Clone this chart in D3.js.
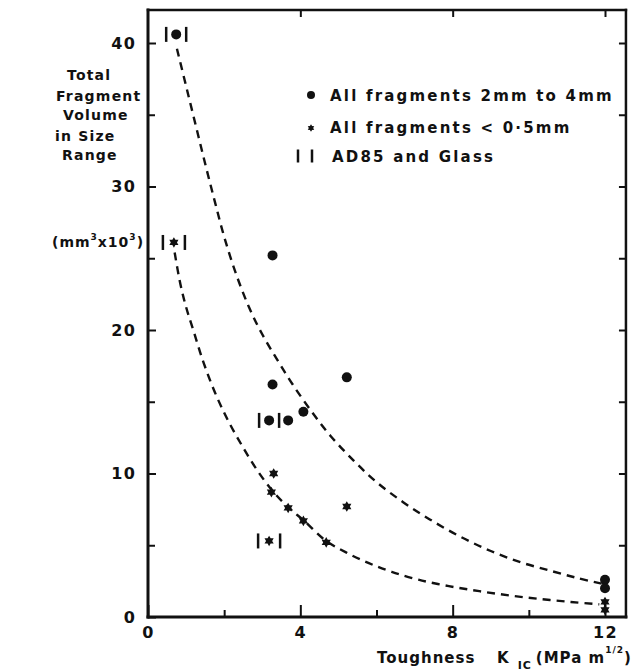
<!DOCTYPE html>
<html>
<head>
<meta charset="utf-8">
<script src="https://cdn.jsdelivr.net/npm/d3@7"></script>
<style>
  html, body { margin: 0; padding: 0; background: #fff; }
  svg { display: block; }
  text { font-family: "DejaVu Sans", "Liberation Sans", Arial, sans-serif; font-weight: bold; fill: #111; }
</style>
</head>
<body>
<script>
// Fragment volume vs. fracture toughness

// Fragments 2mm to 4mm (circles)
const coarseToughness = [0.74, 3.27, 3.27, 5.22, 4.08, 3.18, 3.68, 12, 12];
const coarseVolume    = [40.6, 25.2, 16.2, 16.7, 14.3, 13.7, 13.7, 2.6, 2.0];
const coarseAD85Glass = [true, false, false, false, false, true, false, false, false];

// Fragments < 0.5mm (stars)
const fineToughness = [0.68, 3.30, 3.24, 3.68, 4.08, 4.68, 5.22, 3.18, 12, 12];
const fineVolume    = [26.1, 10.0, 8.7, 7.6, 6.7, 5.2, 7.7, 5.3, 1.05, 0.5];
const fineAD85Glass = [true, false, false, false, false, false, false, true, false, false];

// Hand-drawn trend curves [toughness, volume]
const coarseTrend = [
  [0.76, 39.6], [1.0, 37.0], [1.25, 34.3], [1.5, 31.6], [1.75, 29.0], [2.0, 26.5],
  [2.3, 24.0], [2.65, 21.6], [3.0, 19.7], [3.4, 17.9], [3.8, 16.2], [4.3, 14.3],
  [4.8, 12.6], [5.4, 10.9], [6.0, 9.4], [6.7, 8.0], [7.4, 6.8], [8.2, 5.6],
  [9.0, 4.6], [9.8, 3.8], [10.6, 3.2], [11.3, 2.7], [11.95, 2.3]
];
const fineTrend = [
  [0.70, 25.4], [0.85, 23.2], [1.0, 21.6], [1.2, 19.9], [1.45, 17.8], [1.75, 15.7],
  [2.1, 13.7], [2.5, 11.8], [2.9, 10.1], [3.3, 8.7], [3.7, 7.6], [4.1, 6.7],
  [4.65, 5.35], [5.2, 4.5], [5.8, 3.75], [6.4, 3.15], [7.1, 2.6], [7.9, 2.15],
  [8.7, 1.8], [9.5, 1.5], [10.3, 1.25], [11.1, 1.05], [11.85, 0.88]
];

// Axis ticks
const xMajorTicks = [0, 4, 8, 12];
const xMinorTicks = [2, 6, 10];
const yMajorTicks = [0, 10, 20, 30, 40];
const yMinorTicks = [5, 15, 25, 35];
const yRightTicks = [5, 10, 15, 20, 25, 30, 35, 40];

// Text
const yTitleLines = ["Total", "Fragment", "Volume", "in Size", "Range"];
const legendLabels = ["All fragments 2mm to 4mm", "All fragments < 0·5mm", "AD85 and Glass"];

const W = 631, H = 671;
const xFrameMax = 12.55, yFrameMax = 42.3;

const svg = d3.select("body").append("svg").attr("width", W).attr("height", H);

const x = d3.scaleLinear().domain([0, 12]).range([148, 605]);
const y = d3.scaleLinear().domain([0, 40]).range([617, 43]);

// six-pointed star marker
const star6 = {
  draw(ctx, size) {
    const R = Math.sqrt(size), r = R * 0.58;
    for (let i = 0; i < 12; i++) {
      const a = i * Math.PI / 6 - Math.PI / 2;
      const rad = i % 2 ? r : R;
      const px = Math.cos(a) * rad, py = Math.sin(a) * rad;
      if (i === 0) ctx.moveTo(px, py); else ctx.lineTo(px, py);
    }
    ctx.closePath();
  }
};

// ---- axes ----
function styleAxis(g) {
  g.select(".domain").remove();
  g.selectAll(".tick line").attr("stroke", "#111").attr("stroke-width", 2);
  g.selectAll(".tick text")
    .attr("font-size", 16).attr("letter-spacing", 1.5)
    .attr("font-family", "DejaVu Sans, sans-serif").attr("font-weight", "bold").attr("fill", "#111");
}

svg.append("g").attr("transform", `translate(0,${y(0)})`)
  .call(d3.axisBottom(x).tickValues(xMajorTicks).tickSize(-12).tickPadding(10).tickFormat(d3.format("d")))
  .call(styleAxis);
svg.append("g").attr("transform", `translate(0,${y(0)})`)
  .call(d3.axisBottom(x).tickValues(xMinorTicks).tickSize(-7).tickFormat(""))
  .call(styleAxis);

svg.append("g").attr("transform", `translate(${x(0)},0)`)
  .call(d3.axisLeft(y).tickValues(yMajorTicks).tickSize(-8).tickPadding(11.5).tickFormat(d3.format("d")))
  .call(styleAxis);
svg.append("g").attr("transform", `translate(${x(0)},0)`)
  .call(d3.axisLeft(y).tickValues(yMinorTicks).tickSize(-7).tickFormat(""))
  .call(styleAxis);

svg.append("g").attr("transform", `translate(0,${y(yFrameMax)})`)
  .call(d3.axisTop(x).tickValues(xMajorTicks.filter(d => d > 0)).tickSize(-7).tickFormat(""))
  .call(styleAxis);
svg.append("g").attr("transform", `translate(${x(xFrameMax)},0)`)
  .call(d3.axisRight(y).tickValues(yRightTicks).tickSize(-7).tickFormat(""))
  .call(styleAxis);

// frame
const frame = svg.append("g").attr("fill", "none").attr("stroke", "#111").attr("stroke-linecap", "square");
frame.append("line").attr("x1", x(0)).attr("x2", x(0)).attr("y1", y(yFrameMax)).attr("y2", y(0)).attr("stroke-width", 3);
frame.append("line").attr("x1", x(0)).attr("x2", x(xFrameMax)).attr("y1", y(0)).attr("y2", y(0)).attr("stroke-width", 3);
frame.append("line").attr("x1", x(0)).attr("x2", x(xFrameMax)).attr("y1", y(yFrameMax)).attr("y2", y(yFrameMax)).attr("stroke-width", 2.5);
frame.append("line").attr("x1", x(xFrameMax)).attr("x2", x(xFrameMax)).attr("y1", y(yFrameMax)).attr("y2", y(0)).attr("stroke-width", 2.5);

// ---- trend curves ----
const line = d3.line().x(d => x(d[0])).y(d => y(d[1])).curve(d3.curveCatmullRom.alpha(0.5));
[coarseTrend, fineTrend].forEach(pts => {
  svg.append("path").attr("d", line(pts))
    .attr("fill", "none").attr("stroke", "#111").attr("stroke-width", 2.4)
    .attr("stroke-dasharray", "8,6");
});

// ---- bracket marks for AD85 and glass ----
function brackets(g, cx, cy, half, h) {
  [-half, half].forEach(dx => {
    g.append("line").attr("x1", cx + dx).attr("x2", cx + dx)
      .attr("y1", cy - h / 2).attr("y2", cy + h / 2)
      .attr("stroke", "#111").attr("stroke-width", 2.5);
  });
}

// ---- points ----
const pts = svg.append("g");
coarseToughness.forEach((t, i) => {
  pts.append("circle").attr("cx", x(t)).attr("cy", y(coarseVolume[i])).attr("r", 5).attr("fill", "#111");
  if (coarseAD85Glass[i]) brackets(pts, x(t), y(coarseVolume[i]), 10, 15);
});
const starSym = d3.symbol().type(star6).size(28);
fineToughness.forEach((t, i) => {
  pts.append("path").attr("d", starSym())
    .attr("transform", `translate(${x(t)},${y(fineVolume[i])})`).attr("fill", "#111");
  if (fineAD85Glass[i]) brackets(pts, x(t), y(fineVolume[i]), 11, 15);
});

// ---- legend ----
const lg = svg.append("g");
lg.append("circle").attr("cx", 311).attr("cy", 95).attr("r", 4).attr("fill", "#111");
lg.append("path").attr("d", d3.symbol().type(star6).size(14)()).attr("transform", "translate(311,128)").attr("fill", "#111");
brackets(lg, 305, 156, 7, 13);
legendLabels.forEach((s, i) => {
  lg.append("text").attr("x", i === 2 ? 332 : 330).attr("y", [101, 133, 162][i])
    .attr("font-size", 15).attr("letter-spacing", 2.2).text(s);
});

// ---- y title ----
const yStarts = [67, 56, 63, 55, 62];
const yBase = [80, 101, 120, 141, 160];
yTitleLines.forEach((s, i) => {
  svg.append("text").attr("x", yStarts[i]).attr("y", yBase[i])
    .attr("font-size", 14).attr("letter-spacing", 1.2).text(s);
});
const unit = svg.append("text").attr("x", 52).attr("y", 247).attr("font-size", 14).attr("letter-spacing", 1);
unit.append("tspan").text("(mm");
unit.append("tspan").attr("font-size", 9).attr("dy", -7).text("3");
unit.append("tspan").attr("dy", 7).text("x10");
unit.append("tspan").attr("font-size", 9).attr("dy", -7).text("3");
unit.append("tspan").attr("dy", 7).text(")");

// ---- x title ----
svg.append("text").attr("x", 377).attr("y", 663).attr("font-size", 15).attr("letter-spacing", 1).text("Toughness");
const kt = svg.append("text").attr("x", 497).attr("y", 663).attr("font-size", 15).attr("letter-spacing", 1);
kt.append("tspan").text("K");
kt.append("tspan").attr("font-size", 11).attr("dx", 8).attr("dy", 6).text("IC");
kt.append("tspan").attr("dx", 4).attr("dy", -6).text("(MPa m");
kt.append("tspan").attr("font-size", 9).attr("dy", -10).text("1/2");
kt.append("tspan").attr("dy", 10).text(")");
</script>
</body>
</html>
